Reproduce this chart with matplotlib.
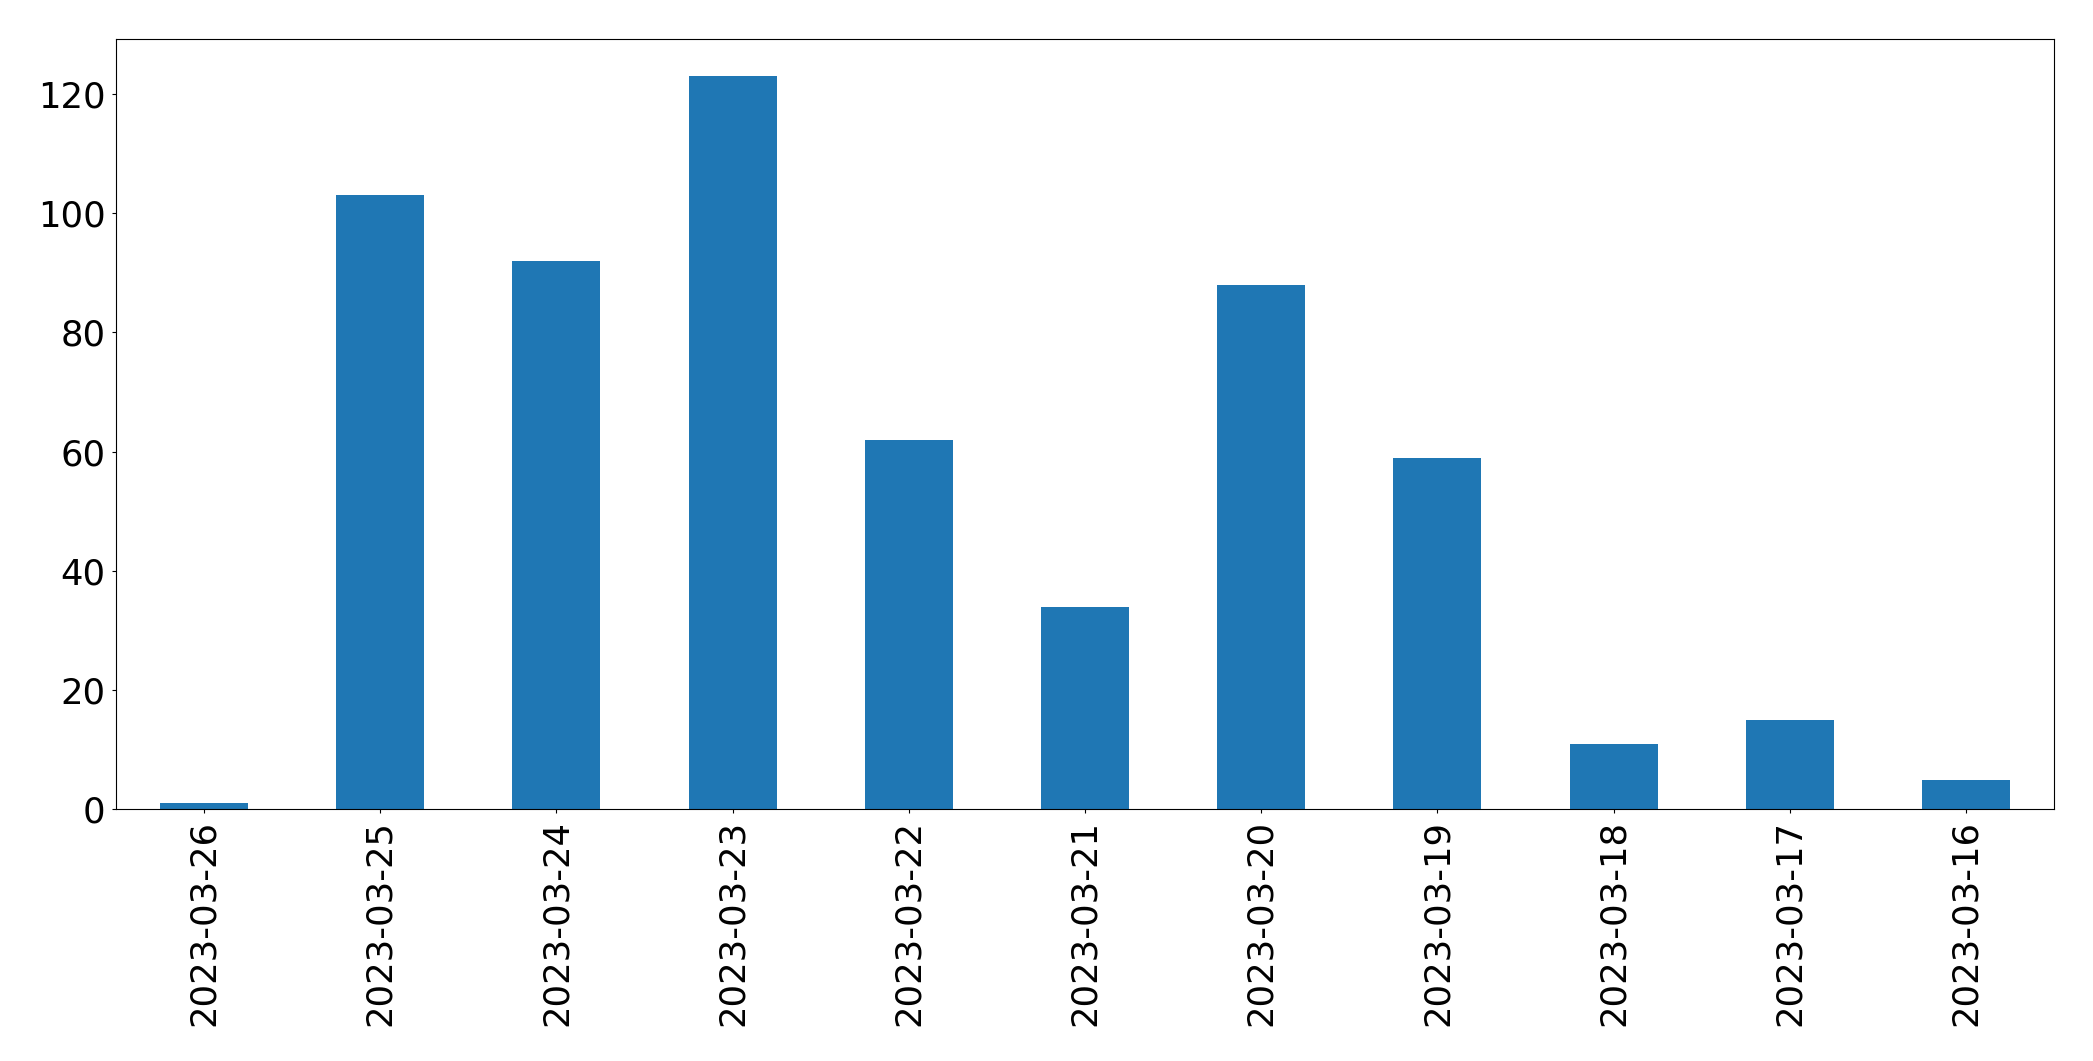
import matplotlib
matplotlib.use("Agg")
import matplotlib.pyplot as plt
import pandas as pd

# daily counts, newest first (as in the original index order)
dates = ["2023-03-26", "2023-03-25", "2023-03-24", "2023-03-23", "2023-03-22",
         "2023-03-21", "2023-03-20", "2023-03-19", "2023-03-18", "2023-03-17",
         "2023-03-16"]
counts = [1, 103, 92, 123, 62, 34, 88, 59, 11, 15, 5]

s = pd.Series(counts, index=dates)

fig = plt.figure(figsize=(20.93, 10.61), dpi=100)
ax = fig.add_subplot(111)
s.plot(kind="bar", ax=ax, color="#1f77b4", fontsize=25.5)
ax.tick_params(length=3, pad=4.5)

fig.subplots_adjust(left=0.0554, right=0.9814, top=0.963, bottom=0.2372)
fig.savefig("out.png", dpi=100)
